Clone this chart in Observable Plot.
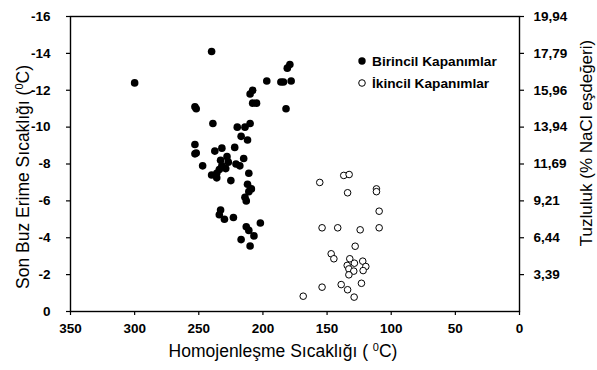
<!DOCTYPE html>
<html>
<head>
<meta charset="utf-8">
<script src="https://cdn.jsdelivr.net/npm/d3@7"></script>
<script src="https://cdn.jsdelivr.net/npm/@observablehq/plot@0.6"></script>
<style>
  html, body { margin: 0; padding: 0; background: #fff; }
  #chart svg { display: block; }
</style>
</head>
<body>
<div id="chart"></div>
<script>
// Birincil Kapanımlar (primary inclusions): homogenisation T (°C), last ice melting T (°C)
const birincilTh = [300,240,253,252,239,181,179,197,186,184,178,210,208,208,205,182,220,214,210,217,212,253,253,252,237.5,232,222,228,215,247,233,227,232,234,236,240,236,229,221,218,211,225,212,209,211,214,213,233,234,230,223,213,211,207,202,217,210];
const birincilTm = [-12.4,-14.1,-11.1,-11.0,-10.2,-13.2,-13.4,-12.5,-12.45,-12.45,-12.5,-11.8,-12.0,-11.3,-11.3,-11.0,-10.0,-10.0,-10.2,-9.5,-9.3,-9.06,-8.55,-8.6,-8.7,-8.86,-8.9,-8.4,-8.3,-7.9,-8.2,-8.1,-7.9,-7.7,-7.5,-7.4,-7.25,-7.75,-8.0,-7.9,-7.5,-7.1,-6.9,-6.65,-6.5,-6.2,-6.0,-5.5,-5.25,-5.0,-5.1,-4.6,-4.4,-4.1,-4.8,-3.9,-3.55];
// İkincil Kapanımlar (secondary inclusions)
const ikincilTh = [155.7,137,132.8,134,111.5,111.5,109.4,153.9,141.7,124.2,109.4,128.1,146.8,144.7,132.3,128.7,122.2,119.8,134.3,133,129.2,121.9,133,153.9,139,134,123.2,128.9,168.6];
const ikincilTm = [-7.0,-7.38,-7.43,-6.44,-6.65,-6.5,-5.44,-4.54,-4.54,-4.43,-4.54,-3.54,-3.13,-2.86,-2.86,-2.62,-2.73,-2.44,-2.5,-2.31,-2.19,-2.22,-1.99,-1.32,-1.46,-1.18,-1.53,-0.78,-0.83];

const xTicks = [350,300,250,200,150,100,50,0];
const yTicks = [-16,-14,-12,-10,-8,-6,-4,-2,0];
const salTicks = [-16,-14,-12,-10,-8,-6,-4,-2];
const salLabels = ["19,94","17,79","15,96","13,94","11,69","9,21","6,44","3,39"];
const seriesNames = ["Birincil Kapanımlar","İkincil Kapanımlar"];

const primary = birincilTh.map((t, i) => ({th: t, tm: birincilTm[i]}));
const secondary = ikincilTh.map((t, i) => ({th: t, tm: ikincilTm[i]}));
const salMap = new Map(salTicks.map((d, i) => [d, salLabels[i]]));

const FONT = "'Liberation Sans', Arial, Helvetica, sans-serif";

const chart = Plot.plot({
  width: 597,
  height: 370,
  marginLeft: 70,
  marginRight: 78,
  marginTop: 16,
  marginBottom: 59,
  style: {fontFamily: FONT, background: "#fff", color: "#000", overflow: "visible"},
  x: {domain: [350, 0]},
  y: {domain: [0, -16]},
  marks: [
    Plot.axisX({ticks: xTicks, tickSize: 4, tickPadding: 8, label: null, tickFormat: d => String(d),
      fontSize: 13.5, fontWeight: "bold", strokeWidth: 1.2}),
    Plot.axisY({anchor: "left", ticks: yTicks, tickSize: 4, tickPadding: 16, label: null, tickFormat: d => String(d),
      fontSize: 13.5, fontWeight: "bold", strokeWidth: 1.2}),
    Plot.axisY({anchor: "right", ticks: salTicks, tickSize: 4, tickPadding: 10, label: null, tickFormat: d => salMap.get(d),
      fontSize: 13.5, fontWeight: "bold", strokeWidth: 1.2}),
    Plot.frame({stroke: "#000", strokeWidth: 1.4}),
    Plot.dot(primary, {x: "th", y: "tm", r: 3.8, fill: "#000", stroke: "none"}),
    Plot.dot(secondary, {x: "th", y: "tm", r: 3.3, fill: "#fff", stroke: "#000", strokeWidth: 1})
  ]
});

document.getElementById("chart").appendChild(chart);

const svg = d3.select(chart);

// Axis titles
const bt = svg.append("text").attr("x", 283).attr("y", 357).attr("text-anchor", "middle")
  .attr("font-family", FONT).attr("font-size", 17.5).attr("fill", "#000");
bt.append("tspan").text("Homojenleşme Sıcaklığı ( ");
bt.append("tspan").attr("dy", -6).attr("font-size", 11).text("0");
bt.append("tspan").attr("dy", 6).text("C)");

const lt = svg.append("text").attr("transform", "translate(29,177) rotate(-90)").attr("text-anchor", "middle")
  .attr("font-family", FONT).attr("font-size", 17.5).attr("fill", "#000");
lt.append("tspan").text("Son Buz Erime Sıcaklığı (");
lt.append("tspan").attr("dy", -6).attr("font-size", 11).text("0");
lt.append("tspan").attr("dy", 6).text("C)");

svg.append("text").attr("transform", "translate(592,143) rotate(-90)").attr("text-anchor", "middle")
  .attr("font-family", FONT).attr("font-size", 17).attr("fill", "#000")
  .text("Tuzluluk (% NaCl eşdeğeri)");

// Legend
const lg = svg.append("g");
lg.append("circle").attr("cx", 362).attr("cy", 61).attr("r", 3.7).attr("fill", "#000");
lg.append("circle").attr("cx", 362).attr("cy", 83).attr("r", 3.3).attr("fill", "#fff").attr("stroke", "#000");
seriesNames.forEach((s, i) => {
  lg.append("text").attr("x", 372).attr("y", 61 + i * 22).attr("dy", "0.35em").attr("text-anchor", "start")
    .attr("font-family", FONT).attr("font-size", 13.7).attr("font-weight", "bold").attr("fill", "#000").text(s);
});
</script>
</body>
</html>
